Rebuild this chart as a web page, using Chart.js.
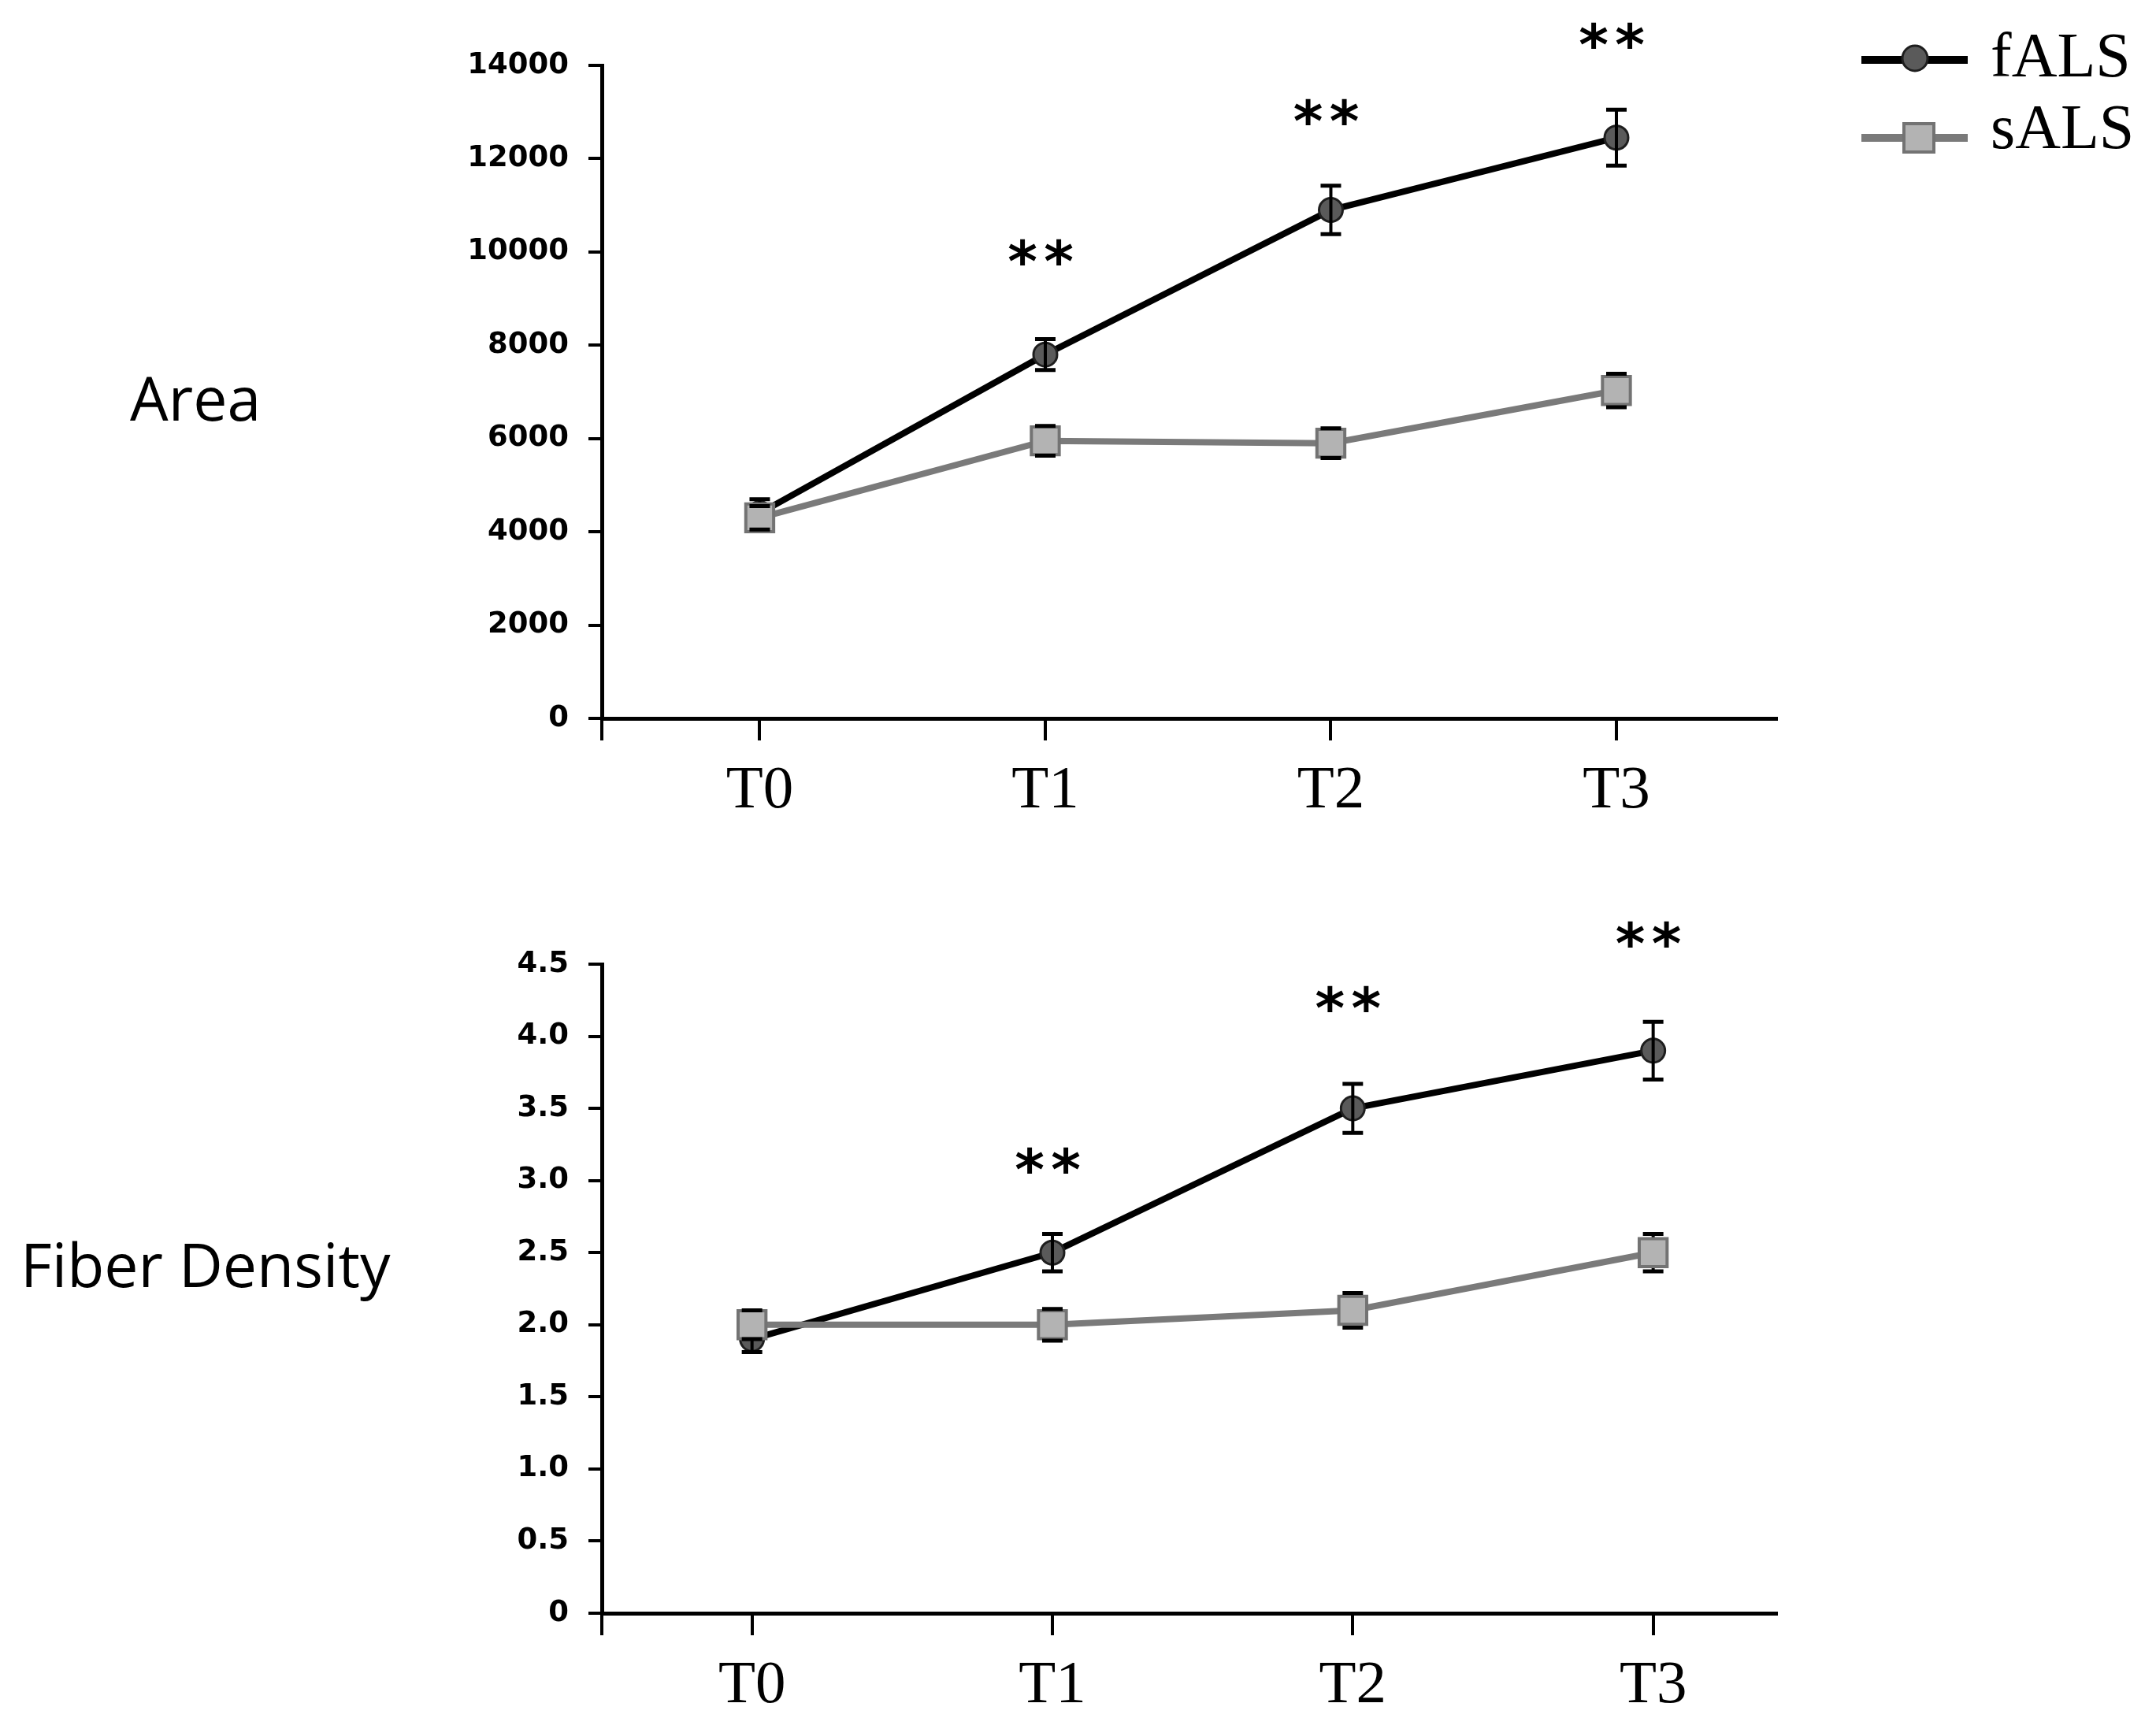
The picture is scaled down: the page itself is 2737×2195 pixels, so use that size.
<!DOCTYPE html>
<html><head><meta charset="utf-8">
<script src="https://cdn.jsdelivr.net/npm/chart.js@4.4.1/dist/chart.umd.min.js"></script>
<style>
html,body{margin:0;padding:0;background:#fff;}
body{width:2737px;height:2195px;position:relative;overflow:hidden;}
canvas{position:absolute;left:0;}
#c1{top:0;} #c2{top:1100px;}
</style></head><body>
<canvas id="c1" width="2737" height="1100" style="width:2737px;height:1100px"></canvas>
<canvas id="c2" width="2737" height="1095" style="width:2737px;height:1095px"></canvas>
<script>
// ---------- data ----------
const categories = ['T0', 'T1', 'T2', 'T3'];
const seriesNames = ['fALS', 'sALS'];

const areaFALS    = [4400, 7800, 10900, 12450];
const areaFALSErr = [300, 330, 520, 600];
const areaSALS    = [4300, 5950, 5900, 7030];
const areaSALSErr = [250, 320, 320, 360];
const areaStars   = [null, 10000, 13000, 14650];
const areaTicks   = [0, 2000, 4000, 6000, 8000, 10000, 12000, 14000];

const densFALS    = [1.9, 2.5, 3.5, 3.9];
const densFALSErr = [0.09, 0.13, 0.17, 0.2];
const densSALS    = [2.0, 2.0, 2.1, 2.5];
const densSALSErr = [0.1, 0.11, 0.12, 0.13];
const densStars   = [null, 3.14, 4.26, 4.71];
const densTicks   = [0, 0.5, 1.0, 1.5, 2.0, 2.5, 3.0, 3.5, 4.0, 4.5];

const starText = '*';

// ---------- plugins ----------
function drawErrors(chart, index, phase) {
  const ds = chart.data.datasets[index];
  if (!ds.errors) return;
  const meta = chart.getDatasetMeta(index);
  const ys = chart.scales.y;
  const ctx = chart.ctx;
  ctx.save();
  ctx.strokeStyle = '#000';
  ctx.lineCap = 'butt';
  meta.data.forEach((pt, i) => {
    const e = ds.errors[i];
    if (e == null) return;
    const v = ds.data[i].y;
    const yt = ys.getPixelForValue(v + e);
    const yb = ys.getPixelForValue(v - e);
    const x = pt.x;
    const stemNow = ds.stemBehind ? phase === 'before' : phase === 'after';
    if (stemNow) {
      ctx.lineWidth = 4;
      ctx.beginPath(); ctx.moveTo(x, yt); ctx.lineTo(x, yb); ctx.stroke();
    }
    if (phase === 'after') {
      ctx.lineWidth = 5;
      ctx.beginPath();
      ctx.moveTo(x - 13, yt); ctx.lineTo(x + 13, yt);
      ctx.moveTo(x - 13, yb); ctx.lineTo(x + 13, yb);
      ctx.stroke();
    }
  });
  ctx.restore();
}
const errorBarPlugin = {
  id: 'errorBars',
  beforeDatasetDraw(chart, args) { drawErrors(chart, args.index, 'before'); },
  afterDatasetDraw(chart, args) { drawErrors(chart, args.index, 'after'); }
};

const starPlugin = {
  id: 'stars',
  afterDatasetsDraw(chart, args, opts) {
    const vals = opts.values || [];
    const ctx = chart.ctx;
    const xs = chart.scales.x, ys = chart.scales.y;
    ctx.save();
    ctx.fillStyle = '#000';
    ctx.font = 'bold 72px "DejaVu Sans"';
    ctx.textAlign = 'center';
    ctx.textBaseline = 'alphabetic';
    const m = ctx.measureText(starText);
    const off = (m.actualBoundingBoxAscent - m.actualBoundingBoxDescent) / 2;
    vals.forEach((v, i) => {
      if (v == null) return;
      const cx = xs.getPixelForValue(i) - 6;
      const cy = ys.getPixelForValue(v);
      ctx.fillText(starText, cx - 23, cy + off);
      ctx.fillText(starText, cx + 23, cy + off);
    });
    ctx.restore();
  }
};

const sideLabelPlugin = {
  id: 'sideLabel',
  afterDraw(chart, args, opts) {
    if (!opts.text) return;
    const ctx = chart.ctx;
    ctx.save();
    ctx.fillStyle = '#000';
    ctx.font = '77px "Open Sans"';
    ctx.textAlign = 'left';
    ctx.textBaseline = 'alphabetic';
    ctx.fillText(opts.text, opts.x, opts.y);
    ctx.restore();
  }
};

const legendPlugin = {
  id: 'customLegend',
  afterDraw(chart, args, opts) {
    if (!opts.display) return;
    const ctx = chart.ctx;
    const rows = [{ y: 76, ty: 97 }, { y: 175, ty: 188 }];
    chart.data.datasets.forEach((ds, i) => {
      const r = rows[i];
      ctx.save();
      ctx.strokeStyle = ds.borderColor;
      ctx.lineWidth = 10;
      ctx.beginPath(); ctx.moveTo(2363, r.y); ctx.lineTo(2498, r.y); ctx.stroke();
      ctx.fillStyle = ds.pointBackgroundColor;
      ctx.strokeStyle = ds.pointBorderColor;
      ctx.lineWidth = ds.pointBorderWidth;
      if (ds.pointStyle === 'rect') {
        ctx.beginPath(); ctx.rect(2417, r.y - 18, 38, 36); ctx.fill(); ctx.stroke();
      } else {
        ctx.beginPath(); ctx.arc(2431, r.y - 2, 16, 0, Math.PI * 2); ctx.fill(); ctx.stroke();
      }
      ctx.fillStyle = '#000';
      ctx.font = '80px "Liberation Serif"';
      ctx.textAlign = 'left';
      ctx.textBaseline = 'alphabetic';
      ctx.fillText(ds.label, 2527, r.ty);
      ctx.restore();
    });
  }
};

// ---------- builders ----------
function pts(vals) { return categories.map((c, i) => ({ x: i, y: vals[i] })); }

function makeDatasets(fVals, fErr, sVals, sErr) {
  return [
    {
      label: seriesNames[0], data: pts(fVals), errors: fErr, stemBehind: false,
      borderColor: '#000000', borderWidth: 8, tension: 0,
      pointStyle: 'circle', pointRadius: 15,
      pointBackgroundColor: '#5a5a5a', pointBorderColor: '#1e1e1e', pointBorderWidth: 3,
      order: 1
    },
    {
      label: seriesNames[1], data: pts(sVals), errors: sErr, stemBehind: true,
      borderColor: '#7a7a7a', borderWidth: 8, tension: 0,
      pointStyle: 'rect', pointRadius: 25,
      pointBackgroundColor: '#b3b3b3', pointBorderColor: '#737373', pointBorderWidth: 4,
      order: 0
    }
  ];
}

function makeChart(id, cfg) {
  return new Chart(document.getElementById(id), {
    type: 'line',
    data: { datasets: makeDatasets(cfg.f, cfg.fe, cfg.s, cfg.se) },
    plugins: [errorBarPlugin, starPlugin, sideLabelPlugin, legendPlugin],
    options: {
      responsive: false, animation: false, devicePixelRatio: 1, events: [],
      layout: { padding: { top: cfg.padTop, right: cfg.padRight, left: 0, bottom: 0 } },
      plugins: {
        legend: { display: false }, tooltip: { enabled: false }, title: { display: false },
        stars: { values: cfg.stars },
        sideLabel: { text: cfg.side, x: cfg.sideX, y: 534 },
        customLegend: { display: cfg.legend }
      },
      scales: {
        x: {
          type: 'linear', min: cfg.xmin, max: cfg.xmax, bounds: 'data',
          afterBuildTicks: (ax) => { ax.ticks = [{ value: cfg.xmin }].concat(categories.map((c, i) => ({ value: i }))); },
          afterFit: (ax) => { ax.height = cfg.xHeight; },
          ticks: {
            autoSkip: false, maxRotation: 0, minRotation: 0, padding: 19, color: '#000',
            font: { family: 'Liberation Serif', size: 77 },
            callback: (v) => (Number.isInteger(v) && categories[v] !== undefined ? categories[v] : '')
          },
          grid: { drawOnChartArea: false, drawTicks: true, tickLength: 28, color: '#000', lineWidth: 4 },
          border: { display: true, color: '#000', width: 5 }
        },
        y: {
          min: cfg.yTicks[0], max: cfg.yTicks[cfg.yTicks.length - 1],
          afterBuildTicks: (ax) => { ax.ticks = cfg.yTicks.map(v => ({ value: v })); },
          afterFit: (ax) => { ax.width = 764; },
          ticks: {
            padding: 25, color: '#000',
            font: { family: 'DejaVu Sans', size: 37, weight: 'bold' },
            callback: cfg.yFmt
          },
          grid: { drawOnChartArea: false, drawTicks: true, tickLength: 17, color: '#000', lineWidth: 4 },
          border: { display: true, color: '#000', width: 5 }
        }
      }
    }
  });
}

makeChart('c1', {
  f: areaFALS, fe: areaFALSErr, s: areaSALS, se: areaSALSErr, stars: areaStars,
  yTicks: areaTicks, yFmt: (v) => String(v),
  xmin: -0.553, xmax: 3.56, padTop: 83, padRight: 482, xHeight: 188,
  side: 'Area', sideX: 165, legend: true
});
makeChart('c2', {
  f: densFALS, fe: densFALSErr, s: densSALS, se: densSALSErr, stars: densStars,
  yTicks: densTicks, yFmt: (v) => (v === 0 ? '0' : v.toFixed(1)),
  xmin: -0.5, xmax: 3.41, padTop: 124, padRight: 482, xHeight: 147,
  side: 'Fiber Density', sideX: 26, legend: false
});
</script>
</body></html>
